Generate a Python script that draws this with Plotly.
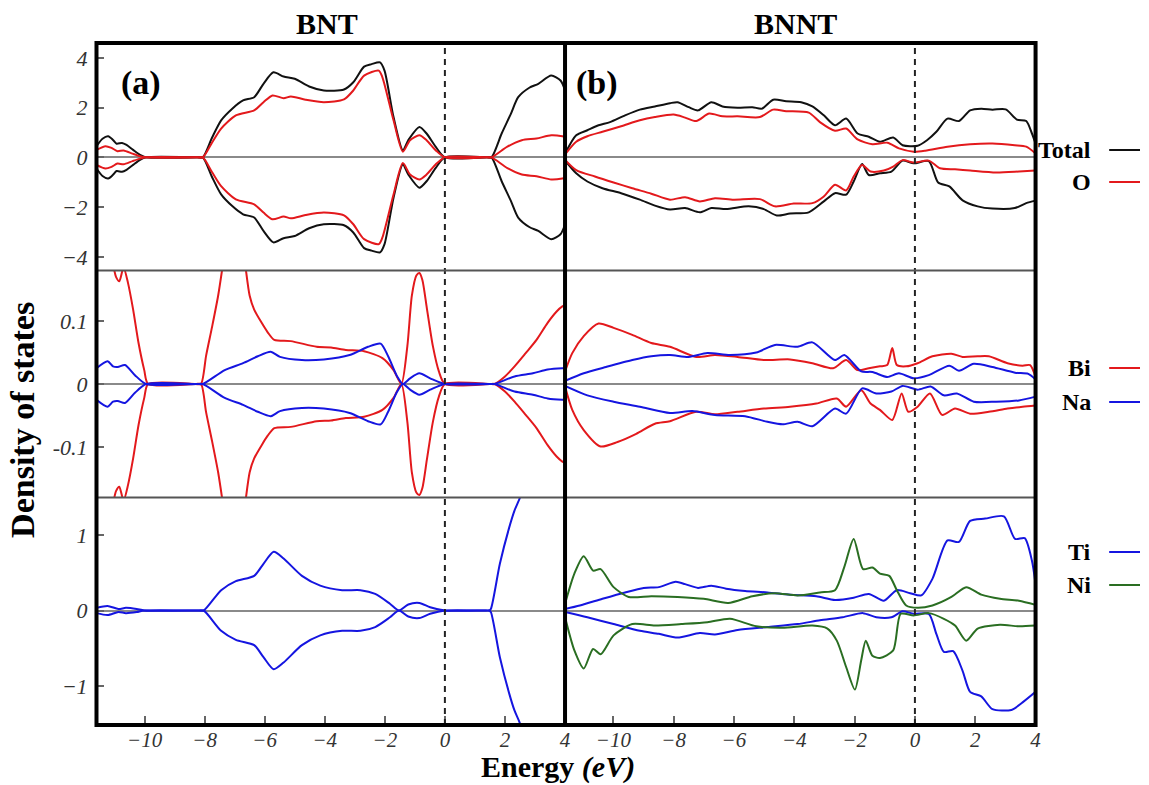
import plotly.graph_objects as go
from plotly.subplots import make_subplots

W, H = 1149, 785

# ---------------- BNT (non-magnetic: spin-down mirrors spin-up) ----------------
bnt_total_e = [-11.6, -11.4, -11.21, -11.05, -10.93, -10.75, -10.6, -10.38, -10.15, -9.95, -8.25, -8.06, -7.75, -7.45,
               -7.08, -6.72, -6.35, -6.04, -5.71, -5.37, -5.0, -4.52, -4.03, -3.36, -3.05, -2.69, -2.44, -2.16,
               -2.01, -1.71, -1.4, -1.22, -0.85, -0.61, -0.31, 0.0, 1.4, 1.55, 1.89, 2.2, 2.44, 2.81, 3.11, 3.54,
               3.85, 4.0]
bnt_total = [0.45, 0.75, 0.85, 0.7, 0.55, 0.58, 0.5, 0.3, 0.1, 0.0, 0.0, 0.0, 0.8, 1.49,
             1.96, 2.29, 2.42, 2.96, 3.42, 3.25, 3.16, 2.85, 2.69, 2.73, 3.02, 3.65, 3.75, 3.82,
             3.49, 1.62, 0.29, 0.69, 1.22, 0.96, 0.43, 0.0, 0.0, 0.0, 0.96, 1.76, 2.42, 2.8, 2.96, 3.29,
             3.09, 2.7]

bnt_o_e = [-11.6, -11.3, -11.1, -10.9, -10.7, -10.4, -10.15, -9.95, -8.25, -8.06, -7.75, -7.45, -6.96, -6.35, -6.04,
           -5.74, -5.37, -5.13, -4.64, -4.03, -3.36, -3.05, -2.69, -2.2, -2.08, -1.71, -1.4, -1.16, -0.85,
           -0.61, -0.31, 0.0, 1.4, 1.55, 2.08, 2.56, 3.05, 3.54, 3.91, 4.0]
bnt_o = [0.3, 0.45, 0.38, 0.25, 0.28, 0.15, 0.05, 0.0, 0.0, 0.0, 0.6, 1.16, 1.69, 1.89, 2.22,
         2.49, 2.38, 2.45, 2.32, 2.22, 2.33, 2.69, 3.29, 3.49, 3.22, 1.49, 0.23, 0.69, 0.89,
         0.69, 0.29, 0.0, 0.0, 0.0, 0.43, 0.69, 0.76, 0.89, 0.85, 0.82]

bnt_bi_e = [-11.6, -11.3, -11.05, -10.95, -10.84, -10.7, -10.55, -10.38, -10.2, -10.01, -9.88, -8.3, -8.12, -7.95,
            -7.75, -7.55, -7.39, -7.0, -6.65, -6.5, -6.35, -6.1, -5.9, -5.68, -5.13, -4.27, -3.79, -3.3,
            -2.69, -2.08, -1.71, -1.45, -1.25, -1.1, -0.95, -0.85, -0.75, -0.6, -0.4, -0.2, 0.0, 1.5, 1.65,
            2.0, 2.32, 2.69, 3.05, 3.42, 3.72, 3.91, 4.0]
bnt_bi = [0.3, 0.24, 0.19, 0.17, 0.163, 0.185, 0.16, 0.118, 0.065, 0.022, 0.0, 0.0, 0.0, 0.045,
          0.091, 0.14, 0.19, 0.32, 0.19, 0.14, 0.118, 0.097, 0.082, 0.07, 0.068, 0.059, 0.058, 0.054,
          0.052, 0.041, 0.022, 0.0, 0.06, 0.14, 0.172, 0.176, 0.165, 0.12, 0.06, 0.02, 0.0, 0.0, 0.0,
          0.012, 0.028, 0.049, 0.07, 0.097, 0.115, 0.123, 0.125]

bnt_na_e = [-11.6, -11.23, -11.05, -10.89, -10.65, -10.32, -9.95, -8.25, -8.06, -7.33, -6.72, -6.23, -5.8, -5.49,
            -4.76, -4.03, -3.17, -2.56, -2.14, -1.89, -1.59, -1.4, -1.16, -0.85, -0.49, 0.0, 1.5, 1.65,
            2.32, 2.93, 3.42, 3.91, 4.0]
bnt_na = [0.025, 0.036, 0.028, 0.027, 0.03, 0.014, 0.0, 0.0, 0.0, 0.022, 0.033, 0.044, 0.051, 0.043,
          0.038, 0.039, 0.046, 0.059, 0.064, 0.044, 0.012, 0.0, 0.009, 0.017, 0.009, 0.0, 0.0, 0.0,
          0.012, 0.017, 0.023, 0.025, 0.025]

bnt_ti_e = [-11.6, -11.23, -10.87, -10.62, -10.26, -10.01, -8.2, -8.03, -7.45, -6.96, -6.35, -6.04, -5.7, -5.37,
            -4.76, -4.15, -3.42, -2.81, -2.32, -1.83, -1.53, -1.22, -0.85, -0.49, 0.0, 1.3, 1.47, 1.53,
            1.83, 2.14, 2.32, 2.5, 2.7, 3.0, 3.5, 4.0]
bnt_ti = [0.035, 0.06, 0.02, 0.035, 0.02, 0.0, 0.0, 0.0, 0.27, 0.39, 0.46, 0.62, 0.78, 0.69,
          0.46, 0.33, 0.27, 0.27, 0.22, 0.09, 0.0, 0.08, 0.1, 0.044, 0.0, 0.0, 0.0, 0.02,
          0.62, 1.1, 1.33, 1.5, 1.8, 2.2, 2.6, 2.9]

# ---------------- BNNT (spin-polarised) ----------------
bnnt_total_up_e = [-11.6, -11.23, -10.86, -10.49, -10.11, -9.61, -9.12, -8.62, -8.12, -7.87, -7.5, -7.19, -6.75,
                   -6.38, -5.88, -5.39, -5.07, -4.7, -4.27, -3.77, -3.4, -3.02, -2.65, -2.28, -1.9, -1.53,
                   -1.16, -0.72, -0.41, 0.09, 0.4, 0.71, 1.08, 1.46, 1.83, 2.2, 2.57, 3.01, 3.38, 3.69, 3.88, 4.0]
bnnt_total_up = [0.15, 0.89, 1.09, 1.29, 1.42, 1.69, 1.92, 2.05, 2.18, 2.22, 2.02, 1.89, 2.22,
                 2.05, 2.0, 2.02, 1.96, 2.32, 2.26, 2.22, 2.05, 1.69, 1.29, 1.56, 0.96, 0.83,
                 0.63, 0.8, 0.49, 0.47, 0.69, 1.03, 1.56, 1.46, 1.89, 1.96, 1.92, 1.93, 1.52, 1.46, 0.96, 0.56]

bnnt_total_dn_e = [-11.6, -11.23, -10.86, -10.36, -9.74, -9.12, -8.62, -8.12, -7.62, -7.13, -6.75, -6.26, -5.51,
                   -5.01, -4.58, -4.14, -3.52, -3.02, -2.65, -2.28, -2.03, -1.75, -1.53, -1.16, -0.78, -0.41,
                   -0.04, 0.46, 0.77, 1.14, 1.58, 2.08, 2.57, 3.31, 3.69, 4.0]
bnnt_total_dn = [-0.12, -0.64, -0.97, -1.24, -1.44, -1.7, -1.94, -2.1, -2.04, -2.21, -2.04, -2.08, -1.97,
                 -2.08, -2.34, -2.26, -2.21, -1.77, -1.44, -1.5, -0.97, -0.27, -0.71, -0.64, -0.57, -0.13,
                 -0.24, -0.15, -1.01, -1.17, -1.73, -1.97, -2.06, -2.04, -1.84, -1.74]

bnnt_o_up_e = [-11.6, -11.23, -10.86, -10.36, -9.74, -9.12, -8.62, -8.0, -7.62, -7.25, -6.82, -6.38, -5.88,
               -5.14, -4.7, -4.27, -3.52, -3.15, -2.65, -2.28, -1.9, -1.41, -0.91, -0.53, -0.04, 0.34, 1.08,
               1.83, 2.57, 3.31, 3.69, 4.0]
bnnt_o_up = [0.12, 0.63, 0.85, 1.03, 1.25, 1.49, 1.62, 1.72, 1.6, 1.46, 1.76, 1.65, 1.65,
             1.62, 1.92, 1.86, 1.8, 1.42, 1.07, 1.16, 0.72, 0.53, 0.59, 0.36, 0.23, 0.27, 0.43,
             0.53, 0.56, 0.49, 0.43, 0.16]

bnnt_o_dn_e = [-11.6, -11.23, -10.61, -9.99, -9.37, -8.74, -8.12, -7.62, -7.13, -6.63, -6.01, -5.14, -4.64,
               -4.02, -3.4, -3.02, -2.65, -2.28, -2.03, -1.75, -1.47, -1.03, -0.72, -0.41, -0.04, 0.46, 0.83,
               1.33, 1.83, 2.69, 3.45, 4.0]
bnnt_o_dn = [-0.1, -0.51, -0.77, -1.01, -1.24, -1.46, -1.7, -1.6, -1.77, -1.64, -1.7, -1.68, -1.97,
             -1.86, -1.84, -1.57, -1.1, -1.33, -0.77, -0.31, -0.57, -0.53, -0.37, -0.11, -0.21, -0.13, -0.44,
             -0.48, -0.53, -0.61, -0.57, -0.53]

bnnt_bi_up_e = [-11.6, -11.36, -10.98, -10.49, -9.99, -9.37, -8.74, -8.12, -7.25, -6.63, -5.88, -5.01, -4.14,
                -3.4, -2.71, -2.28, -1.9, -1.53, -1.16, -0.92, -0.75, -0.6, -0.29, 0.09, 0.58, 1.21, 1.58,
                2.08, 2.45, 3.07, 3.57, 3.82, 4.0]
bnnt_bi_up = [0.02, 0.049, 0.076, 0.096, 0.089, 0.078, 0.065, 0.059, 0.043, 0.046, 0.043, 0.038, 0.039,
              0.033, 0.025, 0.038, 0.022, 0.025, 0.028, 0.03, 0.057, 0.03, 0.028, 0.033, 0.044, 0.048, 0.043,
              0.044, 0.044, 0.033, 0.029, 0.03, 0.011]

bnnt_bi_dn_e = [-11.6, -11.36, -10.98, -10.42, -9.86, -9.24, -8.62, -8.12, -7.25, -6.63, -5.88, -5.01, -4.14,
                -3.27, -2.59, -2.28, -1.78, -1.47, -1.16, -0.75, -0.44, -0.22, 0.09, 0.5, 0.9, 1.33, 1.83,
                2.45, 3.07, 3.57, 4.0]
bnnt_bi_dn = [-0.004, -0.041, -0.073, -0.099, -0.092, -0.079, -0.063, -0.059, -0.044, -0.048, -0.044, -0.039,
              -0.036, -0.031, -0.023, -0.036, -0.01, -0.031, -0.041, -0.057, -0.015, -0.044, -0.036, -0.015,
              -0.049, -0.039, -0.047, -0.044, -0.039, -0.036, -0.034]

bnnt_na_up_e = [-11.6, -10.98, -10.24, -9.37, -8.74, -8.12, -7.5, -6.88, -6.13, -5.26, -4.64, -3.89, -3.4,
                -2.65, -2.34, -1.78, -1.41, -0.91, -0.53, -0.04, 0.46, 1.14, 1.46, 1.95, 2.57, 3.32, 3.76, 4.0]
bnnt_na_up = [0.005, 0.017, 0.027, 0.038, 0.044, 0.046, 0.043, 0.049, 0.046, 0.05, 0.062, 0.059, 0.066,
              0.038, 0.046, 0.02, 0.019, 0.011, 0.017, 0.009, 0.014, 0.029, 0.021, 0.032, 0.027, 0.018, 0.016,
              0.007]

bnnt_na_dn_e = [-11.6, -10.86, -9.99, -9.12, -8.12, -7.38, -6.63, -5.63, -4.89, -4.39, -3.89, -3.4, -2.65,
                -2.28, -1.75, -1.28, -0.78, -0.41, 0.09, 0.52, 0.96, 1.39, 1.95, 2.69, 3.45, 4.0]
bnnt_na_dn = [-0.003, -0.018, -0.028, -0.036, -0.046, -0.043, -0.049, -0.051, -0.06, -0.064, -0.06, -0.067,
              -0.039, -0.047, -0.007, -0.015, -0.012, -0.003, -0.009, -0.004, -0.018, -0.015, -0.028, -0.028,
              -0.026, -0.02]

bnnt_ti_up_e = [-11.6, -11.11, -10.36, -9.61, -8.99, -8.49, -7.93, -7.62, -7.19, -6.75, -6.26, -5.63, -4.89,
                -4.14, -3.27, -2.65, -2.03, -1.53, -1.03, -0.6, -0.16, 0.21, 0.58, 1.08, 1.46, 1.83, 2.33,
                2.95, 3.32, 3.64, 3.88, 4.0]
bnnt_ti_up = [0.02, 0.066, 0.155, 0.24, 0.3, 0.31, 0.38, 0.35, 0.3, 0.33, 0.29, 0.26, 0.24,
              0.21, 0.19, 0.14, 0.17, 0.22, 0.13, 0.27, 0.23, 0.2, 0.42, 0.93, 0.91, 1.19, 1.22,
              1.25, 0.95, 0.96, 0.66, 0.35]

bnnt_ti_dn_e = [-11.6, -10.86, -9.99, -9.12, -8.49, -7.87, -7.13, -6.63, -5.88, -4.89, -3.89, -3.15, -2.4,
                -1.72, -1.28, -0.78, -0.41, -0.04, 0.46, 0.71, 0.96, 1.27, 1.58, 1.83, 2.2, 2.57, 3.2, 3.57, 4.0]
bnnt_ti_dn = [-0.02, -0.09, -0.18, -0.27, -0.31, -0.36, -0.3, -0.32, -0.26, -0.22, -0.18, -0.13, -0.09,
              -0.035, -0.09, -0.09, -0.01, -0.044, -0.044, -0.31, -0.55, -0.54, -0.8, -1.08, -1.14, -1.31,
              -1.32, -1.22, -1.08]

bnnt_ni_up_e = [-11.6, -11.29, -10.98, -10.67, -10.42, -9.99, -9.49, -8.74, -7.87, -7.0, -6.19, -5.39, -4.64,
                -3.89, -3.15, -2.65, -2.34, -2.03, -1.72, -1.41, -1.16, -0.85, -0.6, -0.29, 0.09, 0.58, 1.21,
                1.7, 2.2, 2.82, 3.45, 4.0]
bnnt_ni_up = [0.09, 0.49, 0.72, 0.53, 0.55, 0.31, 0.18, 0.19, 0.18, 0.155, 0.1, 0.19, 0.23,
              0.2, 0.24, 0.27, 0.58, 0.95, 0.55, 0.57, 0.49, 0.46, 0.27, 0.066, 0.035, 0.066, 0.18,
              0.31, 0.21, 0.155, 0.13, 0.075]

bnnt_ni_dn_e = [-11.6, -11.29, -10.98, -10.67, -10.42, -9.99, -9.37, -8.62, -7.75, -6.88, -6.13, -5.26, -4.39,
                -3.4, -2.9, -2.59, -2.28, -1.99, -1.78, -1.63, -1.41, -1.16, -0.72, -0.47, -0.04, 0.46, 0.96,
                1.33, 1.7, 2.08, 2.82, 3.45, 4.0]
bnnt_ni_dn = [-0.09, -0.53, -0.77, -0.51, -0.58, -0.33, -0.18, -0.2, -0.18, -0.155, -0.11, -0.21, -0.23,
              -0.2, -0.24, -0.4, -0.75, -1.05, -0.66, -0.4, -0.6, -0.63, -0.53, -0.044, -0.066, -0.035, -0.11,
              -0.2, -0.4, -0.24, -0.19, -0.21, -0.2]

# ---------------- axes / labels ----------------
energy_range = [-11.6, 4.0]
energy_ticks = [-10, -8, -6, -4, -2, 0, 2, 4]
energy_ticktext = ["\u221210", "\u22128", "\u22126", "\u22124", "\u22122", "0", "2", "4"]
row_ranges = [[-4.55, 4.6], [-0.18, 0.18], [-1.52, 1.5]]
row_ticks = [[-4, -2, 0, 2, 4], [-0.1, 0, 0.1], [-1, 0, 1]]
row_ticktext = [["\u22124", "\u22122", "0", "2", "4"], ["-0.1", "0", "0.1"], ["\u22121", "0", "1"]]
column_titles = ["BNT", "BNNT"]
panel_tags = ["(a)", "(b)"]
legend_rows = [[("Total", "black"), ("O", "red")],
               [("Bi", "red"), ("Na", "blue")],
               [("Ti", "blue"), ("Ni", "green")]]

COL = {"black": "#111111", "red": "#e3191c", "blue": "#1515e0", "green": "#2a6e22"}
SERIF = "Liberation Serif"

# pixel layout of the frame
FL, FR, FM = 97, 1041, 568
FT, FB = 43, 725
ROWS_PX = [(43, 270.5), (270.5, 497.5), (497.5, 725)]


def px(x):
    return x / W


def py(y):
    return 1 - y / H


fig = make_subplots(rows=3, cols=2, horizontal_spacing=0, vertical_spacing=0)


def add_line(r, c, e, v, color):
    fig.add_trace(go.Scatter(x=e, y=v, mode="lines", showlegend=False, hoverinfo="skip",
                             line=dict(color=COL[color], width=2, shape="spline", smoothing=0.7)),
                  row=r, col=c)


# BNT column: spin-down is the mirror of spin-up
for e, v, colr, r in [(bnt_total_e, bnt_total, "black", 1), (bnt_o_e, bnt_o, "red", 1),
                      (bnt_bi_e, bnt_bi, "red", 2), (bnt_na_e, bnt_na, "blue", 2),
                      (bnt_ti_e, bnt_ti, "blue", 3)]:
    add_line(r, 1, e, v, colr)
    add_line(r, 1, e, [-a for a in v], colr)

# BNNT column
for e, v, colr, r in [(bnnt_total_up_e, bnnt_total_up, "black", 1), (bnnt_total_dn_e, bnnt_total_dn, "black", 1),
                      (bnnt_o_up_e, bnnt_o_up, "red", 1), (bnnt_o_dn_e, bnnt_o_dn, "red", 1),
                      (bnnt_bi_up_e, bnnt_bi_up, "red", 2), (bnnt_bi_dn_e, bnnt_bi_dn, "red", 2),
                      (bnnt_na_up_e, bnnt_na_up, "blue", 2), (bnnt_na_dn_e, bnnt_na_dn, "blue", 2),
                      (bnnt_ti_up_e, bnnt_ti_up, "blue", 3), (bnnt_ti_dn_e, bnnt_ti_dn, "blue", 3),
                      (bnnt_ni_up_e, bnnt_ni_up, "green", 3), (bnnt_ni_dn_e, bnnt_ni_dn, "green", 3)]:
    add_line(r, 2, e, v, colr)

ytickfont = dict(family=SERIF, size=22, style="italic", color="#333333")
xtickfont = dict(family=SERIF, size=21, style="italic", color="#333333")
col_dom = [[px(FL), px(FM)], [px(FM), px(FR)]]

for r in range(3):
    top, bot = ROWS_PX[r]
    for c in range(2):
        idx = r * 2 + c + 1
        sx = "xaxis" if idx == 1 else f"xaxis{idx}"
        sy = "yaxis" if idx == 1 else f"yaxis{idx}"
        bottom_row = r == 2
        fig.layout[sx].update(
            domain=col_dom[c], range=energy_range, showgrid=False, zeroline=False, showline=False,
            tickmode="array", tickvals=energy_ticks, ticktext=energy_ticktext,
            ticks="inside" if bottom_row else "", ticklen=9, tickwidth=1.5, tickcolor="#666666",
            showticklabels=bottom_row, tickfont=xtickfont, ticklabelstandoff=0)
        fig.layout[sy].update(
            domain=[py(bot), py(top)], range=row_ranges[r], showgrid=False,
            zeroline=True, zerolinecolor="#8a8a8a", zerolinewidth=1.5, showline=False,
            tickmode="array", tickvals=row_ticks[r], ticktext=row_ticktext[r],
            ticks="inside" if c == 0 else "", ticklen=8, tickwidth=1.5, tickcolor="#666666",
            showticklabels=(c == 0), tickfont=ytickfont, ticklabelstandoff=8)

shapes = []
# Fermi level (dashed) in each column
for c, xr in [(0, "x"), (1, "x2")]:
    shapes.append(dict(type="line", xref=xr, yref="paper", x0=0, x1=0, y0=py(FB), y1=py(FT),
                       line=dict(color="#222222", width=2, dash="6px,5px")))
# row separators
for yy in [ROWS_PX[0][1], ROWS_PX[1][1]]:
    shapes.append(dict(type="line", xref="paper", yref="paper", x0=px(FL), x1=px(FR), y0=py(yy), y1=py(yy),
                       line=dict(color="#555555", width=2)))
# outer frame and column divider
shapes.append(dict(type="rect", xref="paper", yref="paper", x0=px(FL), x1=px(FR), y0=py(FB), y1=py(FT),
                   line=dict(color="black", width=4)))
shapes.append(dict(type="line", xref="paper", yref="paper", x0=px(FM), x1=px(FM), y0=py(FB), y1=py(FT),
                   line=dict(color="black", width=4)))

annotations = []
for c, (t, cx) in enumerate(zip(column_titles, [329, 800])):
    annotations.append(dict(text=f"<b>{t}</b>", x=px(cx), y=py(24), xref="paper", yref="paper",
                            showarrow=False, xanchor="center", yanchor="middle",
                            font=dict(family=SERIF, size=30, color="black")))
for tag, cx in zip(panel_tags, [142, 600]):
    annotations.append(dict(text=f"<b>{tag}</b>", x=px(cx), y=py(83), xref="paper", yref="paper",
                            showarrow=False, xanchor="center", yanchor="middle",
                            font=dict(family=SERIF, size=34, color="black")))

legend_y = [[150, 182], [368, 402], [552, 585]]
for r, entries in enumerate(legend_rows):
    for (name, colr), yy in zip(entries, legend_y[r]):
        annotations.append(dict(text=f"<b>{name}</b>", x=px(1099), y=py(yy), xref="paper", yref="paper",
                                showarrow=False, xanchor="right", yanchor="middle",
                                font=dict(family=SERIF, size=24, color="black")))
        shapes.append(dict(type="line", xref="paper", yref="paper", x0=px(1115), x1=px(1146),
                           y0=py(yy), y1=py(yy), line=dict(color=COL[colr], width=2)))

annotations.append(dict(text="<b>Energy <i>(eV)</i></b>", x=px(561), y=py(767), xref="paper", yref="paper",
                        showarrow=False, xanchor="center", yanchor="middle",
                        font=dict(family=SERIF, size=30, color="black")))
annotations.append(dict(text="<b>Density of states</b>", x=px(22), y=py(420), xref="paper", yref="paper",
                        showarrow=False, xanchor="center", yanchor="middle", textangle=-90,
                        font=dict(family=SERIF, size=34, color="black")))

fig.update_layout(width=W, height=H, margin=dict(l=0, r=0, t=0, b=0, pad=0),
                  paper_bgcolor="white", plot_bgcolor="white",
                  shapes=shapes, annotations=annotations, showlegend=False)

fig.write_html("out.html")
